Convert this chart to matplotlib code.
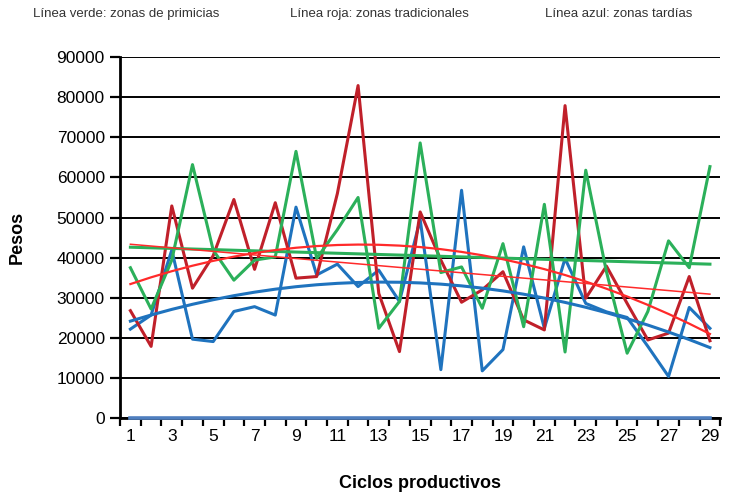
import matplotlib.pyplot as plt
import numpy as np

plt.rcParams['font.family'] = ['Liberation Sans', 'DejaVu Sans']

# data
ciclos = np.arange(1, 30)
verde = [37500, 27200, 39400, 63200, 41900, 34400, 39400, 40200, 66500, 39800,
         47000, 55000, 22400, 29100, 68600, 36300, 37700, 27400, 43500, 22800,
         53300, 16500, 61800, 36500, 16200, 26600, 44200, 37500, 62700]
roja = [26800, 17900, 52900, 32400, 40500, 54500, 37100, 53700, 34900, 35300,
        56000, 82900, 31100, 16600, 51400, 39400, 28900, 32000, 36500, 24500,
        22000, 77900, 29900, 37900, 28600, 19500, 21200, 35300, 19300]
azul = [22200, 25700, 41900, 19700, 19100, 26600, 27800, 25700, 52600, 35700,
        38400, 32800, 36900, 29100, 49500, 12100, 56800, 11800, 17100, 42700,
        22400, 39800, 28600, 26500, 25100, 17900, 10400, 27600, 22400]
cero = [0] * 29

verde_c = '#2bb05a'
roja_c = '#c0202a'
azul_c = '#1f73be'
tend_c = '#ff2a2a'

fig = plt.figure(figsize=(7.32, 4.92), dpi=100)
ax = fig.add_axes([0.164, 0.150, 0.820, 0.734])

x = np.array(ciclos, dtype=float)

# trend lines fitted to the series
g1 = np.polyval(np.polyfit(x, verde, 1), x)
r1 = np.polyval(np.polyfit(x, roja, 1), x)
r2 = np.polyval(np.polyfit(x, roja, 2), x)
b2 = np.polyval(np.polyfit(x, azul, 2), x)

ax.plot(x, cero, color='#4f7fbf', lw=2.6, zorder=6, clip_on=False)
ax.plot(x, azul, color=azul_c, lw=2.2, zorder=3)
ax.plot(x, roja, color=roja_c, lw=2.2, zorder=3)
ax.plot(x, verde, color=verde_c, lw=2.2, zorder=3)
ax.plot(x, g1, color=verde_c, lw=2.2, zorder=4)
ax.plot(x, b2, color=azul_c, lw=2.2, zorder=4)
ax.plot(x, r2, color=tend_c, lw=1.6, zorder=4)
ax.plot(x, r1, color=tend_c, lw=1.1, zorder=4)

ax.set_xlim(0.5, 29.5)
ax.set_ylim(0, 90000)
ax.set_yticks(np.arange(0, 90001, 10000))
ax.set_yticklabels([str(v) for v in range(0, 90001, 10000)], fontsize=12.5)
ax.set_xticks(ciclos[::2])
ax.set_xticklabels([str(c) for c in ciclos[::2]], fontsize=12.5)
ax.set_xticks(np.arange(0.5, 30, 1), minor=True)
ax.tick_params(axis='x', which='major', length=0, pad=8)
ax.tick_params(axis='x', which='minor', length=6, width=1.6, direction='out')
ax.tick_params(axis='y', length=7, width=1.6, direction='out', pad=4)

ax.grid(axis='y', color='black', lw=1.4, zorder=1)
ax.set_axisbelow(True)
for s in ['top', 'right']:
    ax.spines[s].set_visible(False)
ax.spines['left'].set_linewidth(2)
ax.spines['bottom'].set_linewidth(2)

ax.set_ylabel('Pesos', fontsize=13, fontweight='bold', labelpad=22)
ax.set_xlabel('Ciclos productivos', fontsize=13, fontweight='bold', labelpad=22)

fig.text(0.045, 0.972, 'Línea verde: zonas de primicias', fontsize=9.5, color='#333333', va='center')
fig.text(0.396, 0.972, 'Línea roja: zonas tradicionales', fontsize=9.5, color='#333333', va='center')
fig.text(0.745, 0.972, 'Línea azul: zonas tardías', fontsize=9.5, color='#333333', va='center')

fig.savefig('out.png', dpi=100)
